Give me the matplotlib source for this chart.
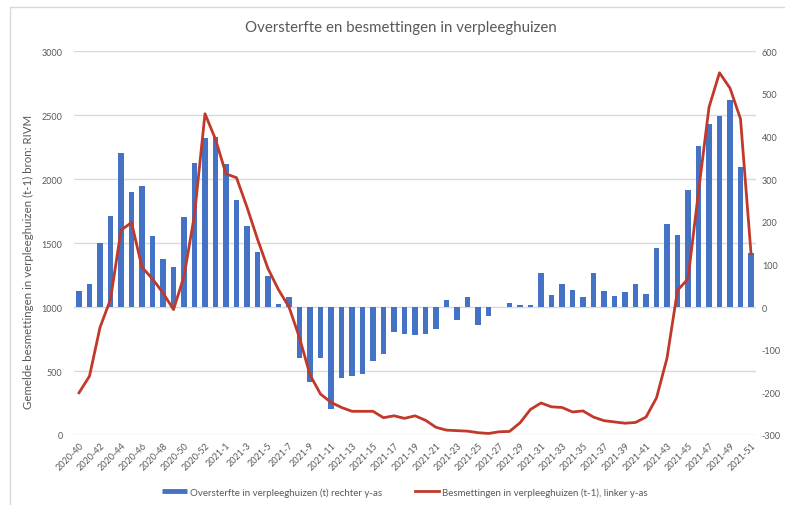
import numpy as np
import matplotlib
matplotlib.use("Agg")
import matplotlib.pyplot as plt
from matplotlib.lines import Line2D
from matplotlib.patches import Rectangle

plt.rcParams['font.family'] = ['Lato', 'DejaVu Sans']

# week categories (2020-40 .. 2020-53, 2021-1 .. 2021-51)
weeks = [f"2020-{w}" for w in range(40, 54)] + [f"2021-{w}" for w in range(1, 52)]

# oversterfte (bars, right axis)
oversterfte = [38, 55, 150, 214, 362, 269, 284, 166, 113, 93,
               212, 337, 396, 399, 334, 251, 190, 130, 72, 7,
               23, -120, -176, -120, -238, -166, -161, -157, -127, -111,
               -59, -63, -66, -63, -52, 17, -31, 24, -43, -20,
               1, 9, 5, 4, 80, 27, 54, 39, 23, 80,
               37, 26, 34, 55, 30, 138, 195, 168, 274, 377,
               430, 448, 484, 327, 127]

# besmettingen (line, left axis)
besmettingen = [330, 460, 840, 1060, 1600, 1660, 1310, 1220, 1110, 980,
                1240, 1720, 2510, 2310, 2040, 2010, 1780, 1530, 1300, 1135,
                1000, 760, 470, 320, 255, 215, 185, 185, 185, 135,
                150, 130, 150, 115, 60, 38, 34, 30, 18, 12,
                25, 28, 95, 200, 250, 220, 215, 180, 188, 140,
                112, 102, 92, 98, 140, 290, 600, 1130, 1220, 1900,
                2560, 2830, 2710, 2470, 1420]

left_ticks = [0, 500, 1000, 1500, 2000, 2500, 3000]
right_ticks = [-300, -200, -100, 0, 100, 200, 300, 400, 500, 600]

grey = "#595959"
blue = "#4472c4"
red = "#c0392b"

fig = plt.figure(figsize=(7.85, 5.06), dpi=100)
W, H = 785, 506

# chart border (top and left visible)
fig.patches.append(Rectangle((10 / W, -0.1), 1.2, 1 - 8 / H + 0.1, transform=fig.transFigure,
                             fill=False, edgecolor="#d9d9d9", linewidth=1))

ax = fig.add_axes([73.75 / W, 1 - 436 / H, (756.25 - 73.75) / W, (436 - 52) / H])
ax2 = ax.twinx()

x = np.arange(len(weeks))
ax2.bar(x, oversterfte, width=0.5, color=blue, zorder=2)
ax.plot(x, besmettingen, color=red, linewidth=2.0, zorder=3)

ax.set_zorder(ax2.get_zorder() + 1)
ax.patch.set_visible(False)

ax.set_xlim(-0.5, len(weeks) - 0.5)
ax.set_ylim(0, 3000)
ax2.set_ylim(-300, 600)

ax.set_yticks(left_ticks)
ax.set_yticklabels([str(t) for t in left_ticks])
ax2.set_yticks(right_ticks)
ax2.set_yticklabels([str(t) for t in right_ticks])

for t in left_ticks:
    ax2.axhline((t - 1000) * 0.3, color="#d9d9d9", linewidth=1, zorder=0)

ax.set_xticks(x[::2])
ax.set_xticklabels(weeks[::2], rotation=45, ha="right", rotation_mode="anchor")

for a in (ax, ax2):
    for s in a.spines.values():
        s.set_visible(False)
    a.tick_params(length=0, colors=grey, labelsize=6.5)
ax.tick_params(axis="y", pad=8)
ax2.tick_params(axis="y", pad=4)
ax.tick_params(axis="x", pad=4)

fig.text(28 / W, 1 - 262 / H, "Gemelde besmettingen in verpleeghuizen (t-1) bron: RIVM",
         rotation=90, ha="center", va="center", fontsize=8.3, color=grey)

fig.text(401 / W, 1 - 28 / H, "Oversterfte en besmettingen in verpleeghuizen",
         ha="center", va="center", fontsize=10.8, color=grey)

handles = [Line2D([], [], color=blue, linewidth=3.5, solid_capstyle="butt"),
           Line2D([], [], color=red, linewidth=2.0)]
labels = ["Oversterfte in verpleeghuizen (t) rechter y-as",
          "Besmettingen in verpleeghuizen (t-1), linker y-as"]
fig.legend(handles, labels, loc="center", bbox_to_anchor=(405 / W, 1 - 493 / H), ncol=2,
           frameon=False, fontsize=7, handlelength=2.5, columnspacing=3.4,
           handletextpad=0.3, labelcolor=grey)

fig.savefig("out.png", dpi=100)
